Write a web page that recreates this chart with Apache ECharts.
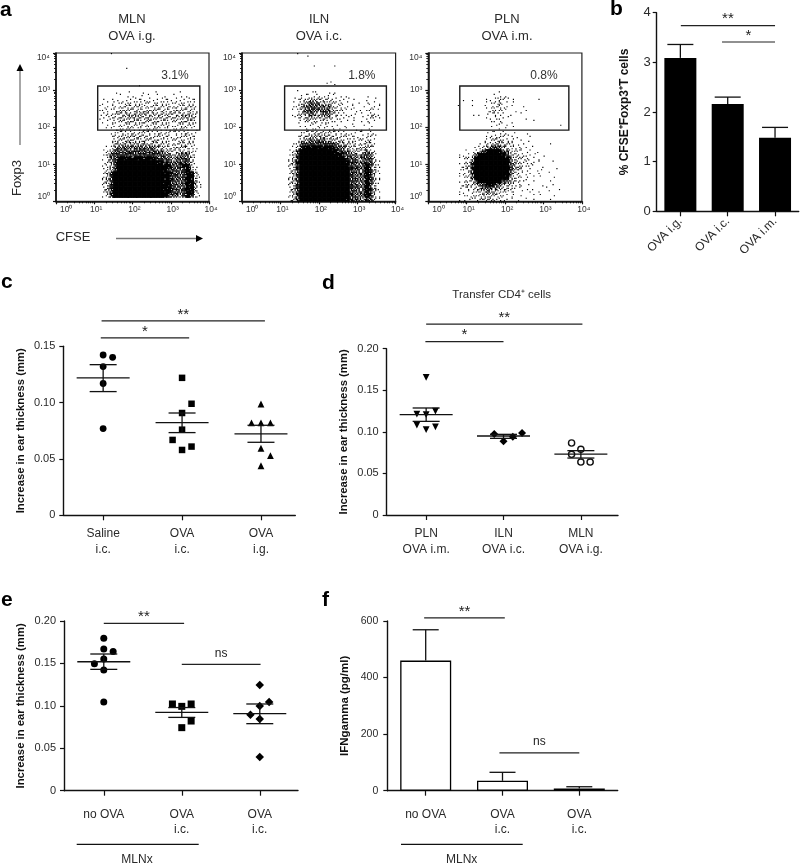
<!DOCTYPE html>
<html><head><meta charset="utf-8">
<style>html,body{margin:0;padding:0;background:#fff}#c{width:800px;height:864px}</style>
<script src="https://cdn.jsdelivr.net/npm/echarts@6/dist/echarts.min.js"></script>
</head><body><div id="c"></div>
<script>
// ---------- panel a: binned dot density (0 empty .. 9 solid)
// each string is one row, top row = 3.9-4.0 decades Foxp3; each char = 0.1 decade CFSE
const Z = "0000000000 0000000000 0000000000 0000000000";
const densityMLN = [
"0000000000 0000100000 0000000000 0000000000",Z,Z,Z,
"0000000000 0000000010 0000000000 0000000000",Z,Z,Z,
"0000000000 0000000000 0100000000 0000000000",Z,
"0000000000 0000010001 0010001000 0010000000",
"0000000000 0000001010 1010101010 1010100000",
"0000000000 0010101011 1111111111 1111111000",
"0000000000 0011111222 2222212222 1222221000",
"0000000000 0111122333 3323233323 2323332000",
"0000000000 0112123333 3433333333 2333332000",
"0000000000 0112223344 4344343333 3334432000",
"0000000000 0111223334 4433433333 3334442000",
"0000000000 0011122333 3333333232 2233332000",
"0000000000 0001112222 2222222222 1222221000",
"0000000000 0001112222 2222222222 1222211000",
"0000000000 0000112222 2222222222 1222211000",
"0000000000 0000122333 3333222222 1222221000",
"0000000000 0000123333 3333333222 2222221000",
"0000000000 0000134444 4444333322 2233221000",
"0000000000 0001245555 5555554433 2334321000",
"0000000000 0012466666 6666665544 3344421000",
"0000000000 0013677777 7777776655 3455521000",
"0000000000 0012578888 8888887766 4566631000",
"0000000000 0012479999 9999998877 5677631000",
"0000000000 0012479999 9999999988 6578841000",
"0000000000 0012479999 9999999987 7657841000",
"0000000000 0024799999 9999999988 7657884100",
"0000000000 0024799999 9999999988 7657884100",
"0000000000 0024799999 9999999988 7657884100",
"0000000000 0024799999 9999999988 7657884100",
"0000000000 0024799999 9999999988 7657884100",
"0000000000 0024799999 9999999988 7657884100",
"0000000000 0013699999 9999999987 6547873100"];
const densityILN = [
"0000000000 0000100100 0000000000 0000000000",Z,Z,
"0000000000 0000000010 0000100000 0000000000",Z,Z,Z,
"0000000000 0000000000 0001000000 0000000000",
"0000000000 0000000000 0010100000 0000000000",Z,
"0000000000 0000100011 0010100000 0000000000",
"0000000000 0000011111 1111010100 0010000000",
"0000000000 0001122343 3222111101 0010100000",
"0000000000 0001134555 4443221110 1011110000",
"0000000000 0001245665 5554321111 0101110000",
"0000000000 0001235665 5664321111 1012110000",
"0000000000 0001234554 4553321111 0112210000",
"0000000000 0001123443 3442211101 0112210000",
"0000000000 0000112222 2221110101 0111100000",
"0000000000 0000011111 1111101011 0101000000",
"0000000000 0000001111 1111110101 0101000000",
"0000000000 0000012233 3322221111 1111100000",
"0000000000 0000123344 4433222211 1122100000",
"0000000000 0000134555 5544332222 2222100000",
"0000000000 0001256777 7766544322 2233100000",
"0000000000 0001378888 8888665433 3343100000",
"0000000000 0012699999 9998876544 3454200000",
"0000000000 0013799999 9999887655 4565200000",
"0000000000 0014799999 9999998766 4676300000",
"0000000000 0024899999 9999999877 5777310000",
"0000000000 0024799999 9999999876 5587420000",
"0000000000 0024799999 9999999976 5587410000",
"0000000000 0024799999 9999999976 5587410000",
"0000000000 0024799999 9999999976 5587410000",
"0000000000 0024799999 9999999976 5587410000",
"0000000000 0024799999 9999999976 5587410000",
"0000000000 0024799999 9999999976 5587410000",
"0000000000 0024799999 9999999976 5587410000",
"0000000000 0024799999 9999999976 5587410000",
"0000000000 0013699999 9999999875 5476310000"];
const densityPLN = [Z,Z,Z,Z,Z,Z,Z,Z,Z,Z,
"0000000000 0000000010 0000000000 0000000000",
"0000000000 0000000110 1000000000 0000000000",
"0000000001 0100011132 1010000010 0000000000",
"0000000000 0000011241 1010000000 0000000000",
"0000000100 0100112231 1100100000 0000000000",
"0000000000 0000012221 1010010000 0000000000",
"0000000000 0101011221 0100100000 0000000000",
"0000000000 0000011211 1000010000 0000000000",
"0000000000 0000001111 0100000100 0000000000",
"0000000000 0000001110 1010000000 0000100000",
"0000000000 0000000010 1000000000 0000000000",
"0000000000 0000011111 1010010000 0000000000",
"0000000000 0000012222 1101001000 0000000000",
"0000000000 0000112332 2110101000 0000000000",
"0000000000 0001123443 3211100000 0100000000",
"0000000000 0012346664 3221110100 0000000000",
"0000000001 0124689986 5322111010 0000000000",
"0000000011 1259999998 7432211100 1000000000",
"0000000012 2499999999 8542221110 0000000000",
"0000000012 2699999999 9643221110 0010000000",
"0000000012 3799999999 9643211101 0000000000",
"0000000012 3799999999 9643211011 0001000000",
"0000000012 2699999999 9532111010 0100000000",
"0000000012 2599999999 8432110101 0010000000",
"0000000012 2379999997 6432110100 0100000000",
"0000000012 2346788764 4321101001 0010000000",
"0000000011 2234565543 3211010100 1000100000",
"0000000011 1223454432 2110101010 0100000000",
"0000000011 1223443322 1110100101 0010000000",
"0000000011 1122333221 1101010100 0100000000"];
// gate in decades: xMin, xMax, yMin, yMax, then label position and label
const gateMLN = [1.09,3.76,1.92,3.11,3.11,3.40,"3.1%"];
const gateILN = [1.11,3.76,1.92,3.11,3.12,3.40,"1.8%"];
const gatePLN = [0.82,3.66,1.92,3.11,3.01,3.40,"0.8%"];
const flowDecades = ["10⁰","10¹","10²","10³","10⁴"];

// ---------- panel b
const bGroups = ["OVA i.g.","OVA i.c.","OVA i.m."];
const bMean = [3.09,2.16,1.48];
const bUpper = [3.36,2.30,1.69];
const bBrackets = [[1.01,3,3.74,"**"],[1.88,3,3.41,"*"]];
// ---------- panel c
const cGroups = ["Saline\ni.c.","OVA\ni.c.","OVA\ni.g."];
const cSaline = [[1,.1423],[1.12,.1402],[1,.132],[1,.117],[1,.077]];
const cOvaIc = [[2,.122],[2.12,.099],[2,.0908],[2,.076],[1.88,.0669],[2.12,.061],[2,.058]];
const cOvaIg = [[3,.0988],[2.88,.082],[3,.082],[3.12,.082],[3,.0595],[3.12,.053],[3,.044]];
const cStats = [[1,.1219,.1098,.1337],[2,.0822,.0734,.0908],[3,.0722,.0648,.0799]];
const cBrackets = [[.98,3.05,.1725,"**"],[.97,2.09,.1574,"*"]];
// ---------- panel d
const dGroups = ["PLN\nOVA i.m.","ILN\nOVA i.c.","MLN\nOVA i.g."];
const dPLN = [[1,.1655],[.88,.1214],[1,.1206],[1.12,.125],[.88,.108],[1,.1026],[1.12,.106]];
const dILN = [[1.88,.0974],[2,.0886],[2.12,.0942],[2.24,.0986]];
const dMLN = [[2.88,.0866],[3,.079],[2.88,.073],[3,.0637],[3.12,.0637]];
const dStats = [[1,.1206,.1126,.1287],[2,.095,.0922,.097],[3,.0733,.0685,.0774]];
const dBrackets = [[1,3.02,.2295,"**"],[.99,2.0,.2085,"*"]];
// ---------- panel e
const eGroups = ["no OVA","OVA\ni.c.","OVA\ni.c."];
const eNoOva = [[1,.1796],[1,.167],[1.12,.1642],[1,.1552],[.88,.1497],[1,.1422],[1,.1045]];
const eOva1 = [[1.88,.1022],[2,.0994],[2.12,.1022],[2.12,.0821],[2,.0743]];
const eOva2 = [[3,.1245],[3.12,.1045],[3,.0998],[2.88,.0896],[3,.0845],[3,.0397]];
const eStats = [[1,.152,.143,.1611],[2,.0923,.0864,.098],[3,.0908,.079,.1022]];
const eBrackets = [[1,2.03,.1972,"**"],[2,3.01,.1488,"ns"]];
// ---------- panel f
const fGroups = ["no OVA","OVA\ni.c.","OVA\ni.c."];
const fMean = [460,35,8];
const fUpper = [569,65,14];
const fBrackets = [[.98,2.03,611,"**"],[1.96,3,134,"ns"]];

// ---------- drawing helpers
const FONT = "Liberation Sans", INK = "#2a2a2a";
const grids = [], xAxes = [], yAxes = [], series = [];
const minorLog = [];
[0,1,2,3].forEach(d => [2,3,4,5,6,7,8,9].forEach(m => minorLog.push(d + Math.log10(m))));
// how the dots of a density cell are placed inside its 3x3 slots
const dotOrder = [4,8,0,6,2,7,1,5,3];
const dotTile = [
  [3,7,1,5,0,8,2],
  [6,0,4,2,7,3,5],
  [1,8,5,3,6,0,4],
  [7,2,0,8,1,5,3],
  [4,5,6,1,3,7,0]];

function flowPanel(rows, gate, box) {
  const g = grids.length;
  grids.push(Object.assign({show:true,borderColor:"#222",borderWidth:1.2,backgroundColor:"#fff"}, box));
  const xi = xAxes.length, yi = yAxes.length;
  const lab = {fontFamily:FONT,fontSize:8.5,color:"#333",formatter:v=>flowDecades[Math.round(v)]};
  xAxes.push({type:"value",gridIndex:g,min:0,max:4,interval:1,splitLine:{show:false},
    axisLine:{lineStyle:{color:"#111",width:1.6}},axisTick:{length:3,lineStyle:{color:"#111",width:1.2}},
    axisLabel:Object.assign({margin:4,padding:[0,0,0,4],alignMinLabel:"left"},lab)});
  xAxes.push({type:"value",gridIndex:g,min:0,max:4,position:"bottom",splitLine:{show:false},
    axisLine:{show:false},axisLabel:{show:false},axisTick:{length:2,customValues:minorLog,lineStyle:{color:"#111",width:.9}}});
  yAxes.push({type:"value",gridIndex:g,min:0,max:4,interval:1,splitLine:{show:false},
    axisLine:{lineStyle:{color:"#111",width:1.6}},axisTick:{length:3,lineStyle:{color:"#111",width:1.2}},
    axisLabel:Object.assign({margin:6,verticalAlignMinLabel:"bottom",verticalAlignMaxLabel:"top"},lab)});
  yAxes.push({type:"value",gridIndex:g,min:0,max:4,position:"left",splitLine:{show:false},
    axisLine:{show:false},axisLabel:{show:false},axisTick:{length:2,customValues:minorLog,lineStyle:{color:"#111",width:.9}}});
  const pts = [];
  rows.forEach((s,r) => {
    s.replace(/ /g,"").split("").forEach((ch,c) => {
      const d = +ch;
      for (let k = 0; k < d; k++) {
        const p = (dotOrder[k] + dotTile[r%5][c%7]) % 9;
        pts.push([(c + ((p%3)+.5)/3)/10, (39 - r + (Math.floor(p/3)+.5)/3)/10, d]);
      }
    });
  });
  series.push({type:"scatter",xAxisIndex:xi,yAxisIndex:yi,data:pts,symbol:"rect",silent:true,
    symbolSize:v=>v[2]>=8?1.9:(v[2]>=5?1.45:1.15),itemStyle:{color:"#000",opacity:1}});
  series.push({type:"custom",xAxisIndex:xi,yAxisIndex:yi,silent:true,z:5,data:[gate],
    renderItem:(p,api)=>{
      const a = api.coord([api.value(0),api.value(3)]), b = api.coord([api.value(1),api.value(2)]);
      const t = api.coord([api.value(4),api.value(5)]);
      return {type:"group",children:[
        {type:"rect",shape:{x:a[0],y:a[1],width:b[0]-a[0],height:b[1]-a[1]},style:{fill:"none",stroke:"#1a1a1a",lineWidth:1.4}},
        {type:"text",style:{x:t[0],y:t[1],text:gate[6],fill:"#333",font:"12px "+FONT,textAlign:"center",textVerticalAlign:"middle"}}
      ]};
    }});
}

function stdPanel(box, xr, yMax, yInt, yFmt, cats, yName, nameGap, labelMargin, o) {
  o = o || {};
  const g = grids.length;
  grids.push(box);
  const xi = xAxes.length, yi = yAxes.length;
  xAxes.push({type:"value",gridIndex:g,min:xr[0],max:xr[1],splitLine:{show:false},
    axisLine:{lineStyle:{color:"#111",width:1.4}},
    axisTick:{length:5,customValues:[1,2,3],lineStyle:{color:"#111",width:1.2}},
    axisLabel:Object.assign({customValues:[1,2,3],formatter:v=>cats[Math.round(v)-1],margin:labelMargin,
      fontFamily:FONT,fontSize:12,color:INK,lineHeight:15.5,showMinLabel:true,showMaxLabel:true,hideOverlap:false},o.xLabel||{})});
  yAxes.push({type:"value",gridIndex:g,min:0,max:yMax,interval:yInt,splitLine:{show:false},
    axisLine:{show:true,lineStyle:{color:"#111",width:1.4}},
    axisTick:{show:true,length:4,lineStyle:{color:"#111",width:1.2}},
    axisLabel:{formatter:yFmt,margin:o.yMargin||8,fontFamily:FONT,fontSize:o.yFont||11,color:INK},
    name:yName,nameLocation:"middle",nameRotate:90,nameGap:nameGap,
    nameTextStyle:{fontFamily:FONT,fontSize:o.nameSize||11.3,fontWeight:"bold",color:"#111"}});
  return {xi,yi};
}

function dots(ax, data, symbol, size, rotate, open) {
  series.push({type:"scatter",xAxisIndex:ax.xi,yAxisIndex:ax.yi,data,symbol,symbolSize:size,symbolRotate:rotate||0,silent:true,
    itemStyle:open?{color:"#fff",borderColor:"#111",borderWidth:1.4,opacity:1}:{color:"#000",opacity:1}});
}
function stats(ax, data) {
  series.push({type:"custom",xAxisIndex:ax.xi,yAxisIndex:ax.yi,silent:true,z:4,data,
    renderItem:(p,api)=>{
      const m = api.coord([api.value(0),api.value(1)]), lo = api.coord([api.value(0),api.value(2)]), hi = api.coord([api.value(0),api.value(3)]);
      const s = {stroke:"#111",lineWidth:1.3};
      const L = (x1,y1,x2,y2)=>({type:"line",shape:{x1,y1,x2,y2},style:s});
      return {type:"group",children:[
        L(m[0]-26.5,m[1],m[0]+26.5,m[1]), L(m[0],lo[1],m[0],hi[1]),
        L(m[0]-13.5,lo[1],m[0]+13.5,lo[1]), L(m[0]-13.5,hi[1],m[0]+13.5,hi[1])]};
    }});
}
function bars(ax, means, uppers, width, fill) {
  series.push({type:"bar",xAxisIndex:ax.xi,yAxisIndex:ax.yi,barWidth:width,silent:true,
    data:means.map((v,i)=>[i+1,v]),
    itemStyle:{color:fill,borderColor:"#000",borderWidth:fill==="#000"?0:1.3}});
  series.push({type:"custom",xAxisIndex:ax.xi,yAxisIndex:ax.yi,silent:true,z:1,
    data:means.map((v,i)=>[i+1,v,uppers[i]]),
    renderItem:(p,api)=>{
      const m = api.coord([api.value(0),api.value(1)]), h = api.coord([api.value(0),api.value(2)]);
      const s = {stroke:"#111",lineWidth:1.3};
      return {type:"group",children:[
        {type:"line",shape:{x1:m[0],y1:m[1],x2:h[0],y2:h[1]},style:s},
        {type:"line",shape:{x1:h[0]-13,y1:h[1],x2:h[0]+13,y2:h[1]},style:s}]};
    }});
}
function brackets(ax, data) {
  series.push({type:"custom",xAxisIndex:ax.xi,yAxisIndex:ax.yi,silent:true,z:6,clip:false,data:data.map(d=>d.slice(0,3)),
    renderItem:(p,api)=>{
      const a = api.coord([api.value(0),api.value(2)]), b = api.coord([api.value(1),api.value(2)]);
      const label = data[p.dataIndex][3], star = label.indexOf("*")>=0;
      return {type:"group",children:[
        {type:"line",shape:{x1:a[0],y1:a[1],x2:b[0],y2:b[1]},style:{stroke:"#222",lineWidth:1.2}},
        {type:"text",style:{x:(a[0]+b[0])/2,y:a[1]-(star?6.5:11),text:label,fill:"#222",
          font:(star?"15px ":"12px ")+FONT,textAlign:"center",textVerticalAlign:"middle"}}]};
    }});
}

// ---------- build panels
flowPanel(densityMLN, gateMLN, {left:56,top:53,width:153,height:148.3});
flowPanel(densityILN, gateILN, {left:242,top:53,width:153.6,height:148.3});
flowPanel(densityPLN, gatePLN, {left:428.3,top:53,width:153.6,height:148.3});

const axB = stdPanel({left:656.7,top:12.7,width:142,height:198.6},[.5,3.5],4,1,v=>v,bGroups,"% CFSE⁺Foxp3⁺T cells",26,10,
  {xLabel:{rotate:45,margin:8},nameSize:12,yFont:13,yMargin:6});
bars(axB,bMean,bUpper,32,"#000");
brackets(axB,bBrackets);

const fmt2 = v => v===0?"0":v.toFixed(2);
const axC = stdPanel({left:63.3,top:346.3,width:232,height:169},[.495,3.435],.15,.05,fmt2,cGroups,"Increase in ear thickness (mm)",37,11);
dots(axC,cSaline,"circle",6.8); dots(axC,cOvaIc,"rect",6.5); dots(axC,cOvaIg,"triangle",6.8);
stats(axC,cStats); brackets(axC,cBrackets);

const axD = stdPanel({left:386.7,top:348.7,width:231.3,height:166.3},[.49,3.48],.2,.05,fmt2,dGroups,"Increase in ear thickness (mm)",37.5,11);
dots(axD,dPLN,"triangle",6.8,180); dots(axD,dILN,"diamond",8); dots(axD,dMLN,"circle",6.2,0,true);
stats(axD,dStats); brackets(axD,dBrackets);

const axE = stdPanel({left:64,top:621,width:234,height:169.7},[.49,3.49],.2,.05,fmt2,eGroups,"Increase in ear thickness (mm)",38,16);
dots(axE,eNoOva,"circle",7); dots(axE,eOva1,"rect",7); dots(axE,eOva2,"diamond",8.5);
stats(axE,eStats); brackets(axE,eBrackets);

const axF = stdPanel({left:387.3,top:621,width:230.4,height:169.7},[.5,3.5],600,200,v=>v,fGroups,"IFNgamma (pg/ml)",36,16,
  {nameSize:11.5,yFont:10.5,yMargin:9});
bars(axF,fMean,fUpper,51,"#fff");
brackets(axF,fBrackets);

// ---------- free text and axis arrows
const T = (x,y,text,o) => ({type:"text",x,y,style:Object.assign({text,fill:INK,font:"13px "+FONT,textAlign:"center",textVerticalAlign:"middle"},o||{})});
const Ln = (x1,y1,x2,y2,c) => ({type:"line",shape:{x1,y1,x2,y2},style:{stroke:c||"#111",lineWidth:1.3}});
const P = pts => ({type:"polygon",shape:{points:pts},style:{fill:"#000"}});
const letter = {font:"bold 21px "+FONT,fill:"#000",textAlign:"left"};
const graphic = [
  T(0,10,"a",letter),T(610,9,"b",letter),T(1,282,"c",letter),T(322,283,"d",letter),T(1,600,"e",letter),T(322,600,"f",letter),
  T(132,19,"MLN"),T(132,36,"OVA i.g."),T(319,19,"ILN"),T(319,36,"OVA i.c."),T(507,19,"PLN"),T(507,36,"OVA i.m."),
  {type:"text",x:17,y:178,rotation:Math.PI/2,style:{text:"Foxp3",fill:INK,font:"13px "+FONT,textAlign:"center",textVerticalAlign:"middle"}},
  T(73,237,"CFSE"),
  Ln(20,145,20,68,"#777"),P([[20,64],[16.5,71],[23.5,71]]),
  Ln(116,238.5,198,238.5,"#777"),P([[203,238.5],[196,235],[196,242]]),
  T(501.7,294.5,"Transfer CD4⁺ cells",{font:"11.5px "+FONT}),
  Ln(76.7,844.3,198.7,844.3),T(137,860,"MLNx",{font:"12px "+FONT}),
  Ln(401,844.3,522.7,844.3),T(461.7,860,"MLNx",{font:"12px "+FONT})
];

const chart = echarts.init(document.getElementById("c"),null,{renderer:"canvas"});
chart.setOption({animation:false,backgroundColor:"#fff",tooltip:{show:false},grid:grids,xAxis:xAxes,yAxis:yAxes,series,graphic:{elements:graphic}});
</script>
</body></html>
